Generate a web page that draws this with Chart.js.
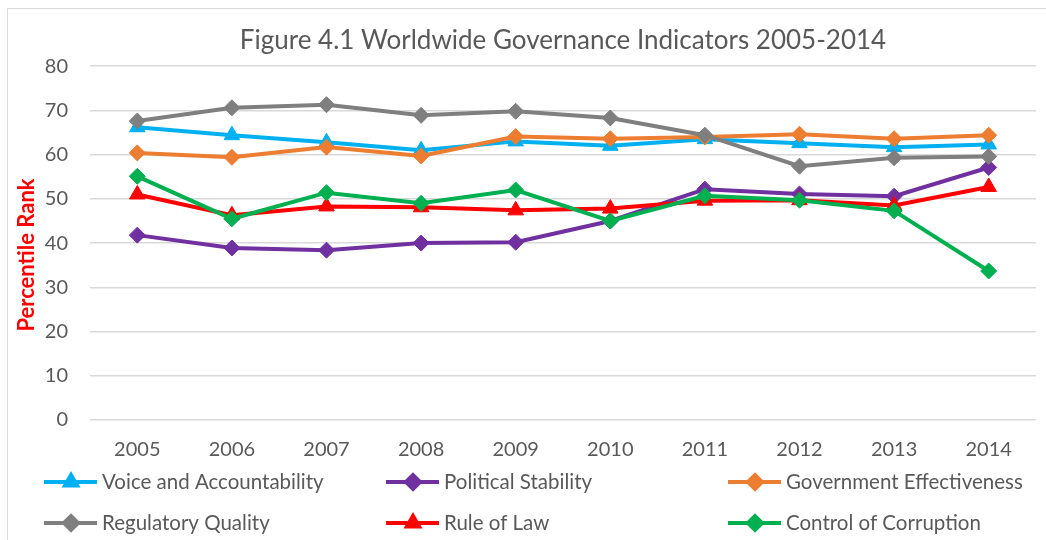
<!DOCTYPE html>
<html>
<head>
<meta charset="utf-8">
<script src="https://cdn.jsdelivr.net/npm/chart.js@4"></script>
<style>
  html, body { margin: 0; padding: 0; background: #fff; }
  #wrap { position: relative; width: 1046px; height: 540px; overflow: hidden; }
  #frame { position: absolute; left: 7px; top: 8px; width: 1100px; height: 600px; border: 1px solid #d9d9d9; }
  canvas { position: absolute; left: 0; top: 0; }
</style>
</head>
<body>
<div id="wrap">
  <div id="frame"></div>
  <canvas id="chart" width="1046" height="540"></canvas>
</div>
<script>
// Chart data
const years = ['2005', '2006', '2007', '2008', '2009', '2010', '2011', '2012', '2013', '2014'];
const voiceAccountability = [66.2, 64.4, 62.8, 61.0, 63.0, 62.0, 63.5, 62.6, 61.7, 62.3];
const politicalStability = [41.8, 38.9, 38.4, 40.0, 40.2, 45.0, 52.2, 51.1, 50.6, 57.1];
const governmentEffectiveness = [60.4, 59.4, 61.7, 59.7, 64.1, 63.6, 64.0, 64.6, 63.6, 64.4];
const regulatoryQuality = [67.6, 70.6, 71.3, 68.9, 69.8, 68.3, 64.4, 57.4, 59.3, 59.6];
const ruleOfLaw = [51.0, 46.3, 48.3, 48.1, 47.4, 47.8, 49.6, 49.7, 48.5, 52.7];
const controlOfCorruption = [55.1, 45.5, 51.4, 49.0, 52.0, 45.0, 50.7, 49.7, 47.3, 33.7];
const yTicks = [0, 10, 20, 30, 40, 50, 60, 70, 80];

const series = [
  { label: 'Voice and Accountability', data: voiceAccountability, color: '#00b0f0', marker: 'triangle' },
  { label: 'Political Stability', data: politicalStability, color: '#7030a0', marker: 'rectRot' },
  { label: 'Government Effectiveness', data: governmentEffectiveness, color: '#ed7d31', marker: 'rectRot' },
  { label: 'Regulatory Quality', data: regulatoryQuality, color: '#7f7f7f', marker: 'rectRot' },
  { label: 'Rule of Law', data: ruleOfLaw, color: '#ff0000', marker: 'triangle' },
  { label: 'Control of Corruption', data: controlOfCorruption, color: '#00b050', marker: 'rectRot' }
];

const FONT = 'Lato, "Open Sans", sans-serif';

// legend drawn in two rows of three, like the Excel original
const legendPlugin = {
  id: 'gridLegend',
  afterDraw(chart) {
    const ctx = chart.ctx;
    const cols = [44, 386, 728];
    const rows = [482, 523];
    ctx.save();
    chart.data.datasets.forEach((ds, i) => {
      const x = cols[i % 3];
      const y = rows[Math.floor(i / 3)];
      ctx.strokeStyle = ds.borderColor;
      ctx.lineWidth = 4;
      ctx.beginPath();
      ctx.moveTo(x, y);
      ctx.lineTo(x + 53, y);
      ctx.stroke();
      Chart.helpers.drawPoint(ctx, {
        pointStyle: ds.pointStyle,
        radius: 7,
        borderWidth: 1
      }, x + 27, y);
      ctx.fillStyle = ds.borderColor;
      ctx.fill();
      ctx.fillStyle = '#595959';
      ctx.font = '20.5px ' + FONT;
      ctx.textAlign = 'left';
      ctx.textBaseline = 'middle';
      ctx.fillText(ds.label, x + 58, y);
    });

    // y axis title, placed where Excel puts it
    ctx.translate(27, 255);
    ctx.rotate(-Math.PI / 2);
    ctx.fillStyle = '#ff0000';
    ctx.font = 'bold 22px ' + FONT;
    ctx.textAlign = 'center';
    ctx.textBaseline = 'middle';
    ctx.fillText('Percentile Rank', 0, 0);
    ctx.restore();
  }
};

new Chart(document.getElementById('chart'), {
  type: 'line',
  data: {
    labels: years,
    datasets: series.map((s, i) => ({
      label: s.label,
      data: s.data,
      borderColor: s.color,
      backgroundColor: s.color,
      borderWidth: 4,
      pointStyle: s.marker,
      pointRadius: s.marker === 'triangle' ? 9 : 8,
      pointBorderWidth: 1,
      pointBackgroundColor: s.color,
      pointBorderColor: s.color,
      tension: 0,
      fill: false,
      order: series.length - i
    }))
  },
  options: {
    responsive: false,
    animation: false,
    layout: { padding: 0 },
    plugins: {
      legend: { display: false },
      tooltip: { enabled: false },
      title: {
        display: true,
        fullSize: false,
        text: 'Figure 4.1 Worldwide Governance Indicators 2005-2014',
        color: '#595959',
        font: { family: FONT, size: 26, weight: 'normal' },
        padding: { top: 25, bottom: 10 }
      }
    },
    scales: {
      x: {
        offset: true,
        grid: { display: false, drawTicks: false },
        border: { display: false },
        ticks: { color: '#595959', font: { family: FONT, size: 20 }, padding: 18 },
        afterFit(scale) { scale.height = 120; }
      },
      y: {
        min: 0,
        max: 80,
        afterBuildTicks(scale) { scale.ticks = yTicks.map(v => ({ value: v })); },
        grid: { color: '#d9d9d9', lineWidth: 1.5, drawTicks: false },
        border: { display: false },
        ticks: { color: '#595959', font: { family: FONT, size: 20 }, padding: 22 },
        afterFit(scale) { scale.width = 90; }
      }
    }
  },
  plugins: [legendPlugin]
});
</script>
</body>
</html>
